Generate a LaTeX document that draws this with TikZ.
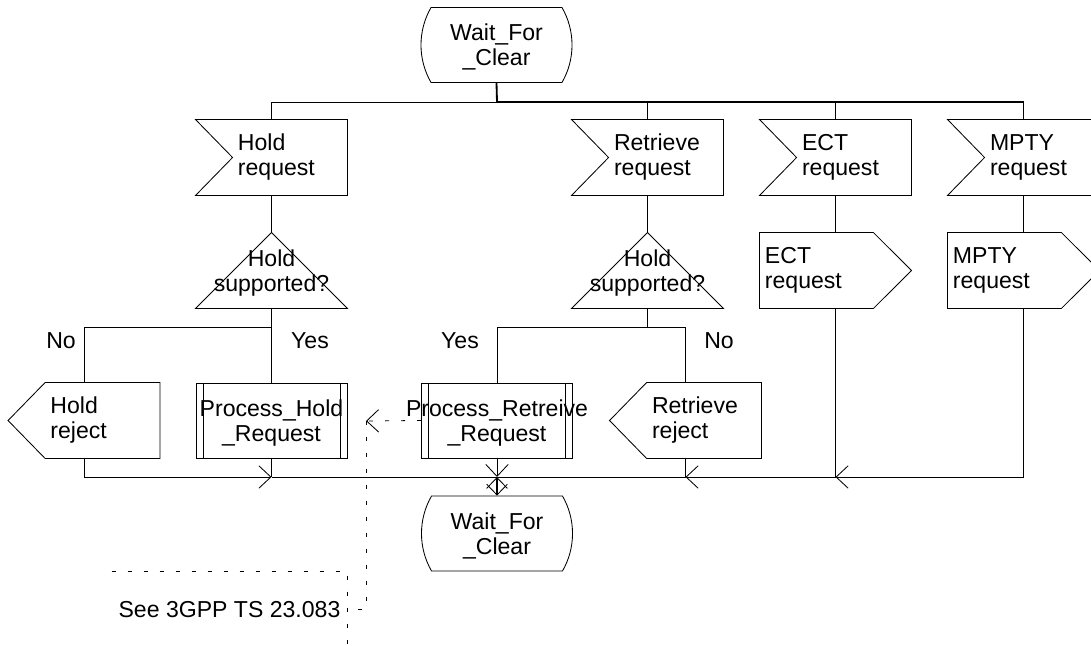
\documentclass[tikz,border=0pt]{standalone}
\usepackage{fontspec}
\setmainfont{Liberation Sans}
\usetikzlibrary{arrows.meta,shapes.misc}
\newcommand{\sdlfont}{\fontsize{16.4}{17.8}\selectfont}
\tikzset{
  boldline/.style={line width=1.3pt},
  sym/.style={minimum width=3.775cm,minimum height=1.875cm,inner sep=0pt,font=\sdlfont},
  statebox/.style={sym,text depth=0pt,rounded rectangle,rounded rectangle arc length=60,draw,align=center},
  inbox/.style={sym,text width=1.675cm,align=left},
  outbox/.style={sym,text width=3.525cm,align=left},
  decbox/.style={sym,text depth=0pt,align=center},
  procbox/.style={sym,text depth=0pt,draw,align=center,
    path picture={\draw ([xshift=0.175cm]path picture bounding box.north west) -- ([xshift=0.175cm]path picture bounding box.south west)
      ([xshift=-0.175cm]path picture bounding box.north east) -- ([xshift=-0.175cm]path picture bounding box.south east);}},
  lbl/.style={font=\sdlfont,inner sep=0pt},
  barb/.style={-{Straight Barb[length=0.3cm,width=0.56cm,line width=0.6pt]}},
  notedash/.style={dash pattern=on 0.1cm off 0.3cm},
}
\begin{document}
\begin{tikzpicture}[x=0.025cm,y=-0.025cm,line width=0.6pt]
\useasboundingbox (0,0) rectangle (1091,645);
% states
\node[statebox] (top) at (496.5,45) {Wait\_For\\\_Clear};
\node[statebox] (bottom) at (497,533.5) {Wait\_For\\\_Clear};
% inputs
\node[inbox] (holdreq) at (271.5,157.5) {Hold\\request};
\node[inbox] (retrreq) at (647.5,157.5) {Retrieve\\request};
\node[inbox] (ectreq) at (835.5,157.5) {ECT\\request};
\node[inbox] (mptyreq) at (1023.5,157.5) {MPTY\\request};
\draw (holdreq.north west) -- (holdreq.north east) -- (holdreq.south east) -- (holdreq.south west) -- ([xshift=0.925cm]holdreq.west) -- cycle;
\draw (retrreq.north west) -- (retrreq.north east) -- (retrreq.south east) -- (retrreq.south west) -- ([xshift=0.925cm]retrreq.west) -- cycle;
\draw (ectreq.north west) -- (ectreq.north east) -- (ectreq.south east) -- (ectreq.south west) -- ([xshift=0.925cm]ectreq.west) -- cycle;
\draw (mptyreq.north west) -- (mptyreq.north east) -- (mptyreq.south east) -- (mptyreq.south west) -- ([xshift=0.925cm]mptyreq.west) -- cycle;
% decisions
\node[decbox] (holddec) at (271.5,270.5) {Hold\\supported?};
\node[decbox] (retrdec) at (647.5,270.5) {Hold\\supported?};
\draw (holddec.south west) -- (holddec.north) -- (holddec.south east) -- cycle;
\draw (retrdec.south west) -- (retrdec.north) -- (retrdec.south east) -- cycle;
% outputs
\node[outbox] (ectout) at (835.5,270.5) {ECT\\request};
\node[outbox] (mptyout) at (1023.5,270.5) {MPTY\\request};
\draw (ectout.north west) -- ([xshift=-0.95cm]ectout.north east) -- (ectout.east) -- ([xshift=-0.95cm]ectout.south east) -- (ectout.south west) -- cycle;
\draw (mptyout.north west) -- ([xshift=-0.95cm]mptyout.north east) -- (mptyout.east) -- ([xshift=-0.95cm]mptyout.south east) -- (mptyout.south west) -- cycle;
\node[inbox] (holdrej) at (84,420.5) {Hold\\reject};
\node[inbox] (retrrej) at (685.5,420.5) {Retrieve\\reject};
\draw (holdrej.west) -- ([xshift=0.925cm]holdrej.north west) -- (holdrej.north east) -- (holdrej.south east) -- ([xshift=0.925cm]holdrej.south west) -- cycle;
\draw (retrrej.west) -- ([xshift=0.925cm]retrrej.north west) -- (retrrej.north east) -- (retrrej.south east) -- ([xshift=0.925cm]retrrej.south west) -- cycle;
% procedures
\node[procbox] (holdproc) at (271.5,420.5) {Process\_Hold\\\_Request};
\node[procbox] (retrproc) at (497,420.5) {\makebox[3.775cm]{Process\_Retreive}\\\_Request};
% branch labels
\node[lbl] (holdno) at (61,341) {No};
\node[lbl] (holdyes) at (310,341) {Yes};
\node[lbl] (retryes) at (460,341) {Yes};
\node[lbl] (retrno) at (719,341) {No};
% comment
\node[sym,minimum width=5.875cm] (note) at (229.5,609.5) {See 3GPP TS 23.083};
\draw[notedash] (note.north west) -- (note.north east) -- (note.south east);
% junction points
\coordinate (tj) at (497,102);
\coordinate (tr) at (1023.5,102);
\coordinate (hb) at (271.5,327);
\coordinate (rb) at (647.5,327);
\coordinate (m1) at (271.5,477);
\coordinate (m2) at (497,477);
\coordinate (m3) at (685.5,477);
\coordinate (m4) at (835.5,477);
\coordinate (m5) at (1023.5,477);
\coordinate (ca) at (366,421);
% connectors
\draw[boldline] (top.south) -- (tj);
\draw[boldline] (tj) -- (tr);
\draw (tj) -| (holdreq.north);
\draw (retrreq.north |- tj) -- (retrreq.north);
\draw (ectreq.north |- tj) -- (ectreq.north);
\draw (tr) -- (mptyreq.north);
\draw (holdreq.south) -- (holddec.north);
\draw (retrreq.south) -- (retrdec.north);
\draw (ectreq.south) -- (ectout.north);
\draw (mptyreq.south) -- (mptyout.north);
\draw (holddec.south) -- (holdproc.north);
\draw (hb) -| (holdrej.north);
\draw (retrdec.south) -- (rb);
\draw (rb) -| (retrproc.north);
\draw (rb) -| (retrrej.north);
\draw[barb] (holdrej.south) |- (m1);
\draw (holdproc.south) -- (m1);
\draw (m1) -- (m2);
\draw[barb] (retrproc.south) -- (m2);
\draw (retrrej.south) -- (m3);
\draw (m3) -- (m2);
\draw[barb] (m4) -- (m3);
\draw (ectout.south) -- (m4);
\draw[barb] (m5) -- (m4);
\draw (mptyout.south) -- (m5);
\draw[boldline,{Straight Barb[length=0.27cm,width=0.52cm,line width=0.6pt]}-{Straight Barb[length=0.27cm,width=0.52cm,line width=0.6pt]}] (m2) -- (bottom.north);
\draw[notedash,barb] (retrproc.west) -- (ca);
\draw[notedash] (ca) |- (note.east);
\end{tikzpicture}
\end{document}
